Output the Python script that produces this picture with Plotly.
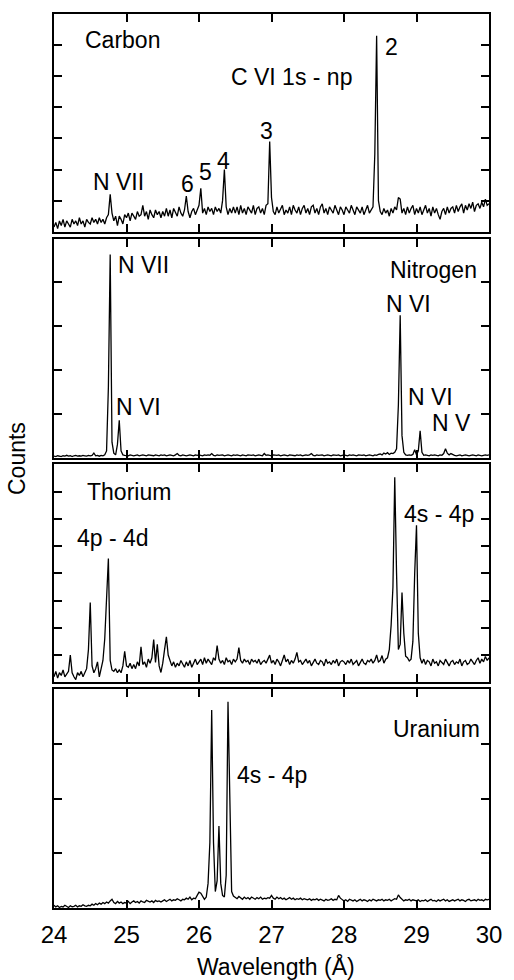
import numpy as np
import plotly.graph_objects as go

# Wavelength grid: start 24.0 A, step 0.025 A
WL_START = 24.0
WL_STEP = 0.025

carbon = [
    1.5, 3.0, 1.0, 3.5, 2.0, 4.0, 1.5, 3.5, 2.5, 1.5, 4.0, 2.5, 3.5, 2.0, 4.5, 2.5, 3.5, 1.5, 4.0, 3.0,
    2.5, 4.5, 3.0, 4.0, 2.5, 4.5, 3.0, 4.0, 2.5, 4.5, 5.5, 12.0, 6.0, 3.5, 5.0, 2.0, 5.0, 4.0, 2.5, 5.5,
    4.5, 6.0, 3.5, 6.0, 5.0, 4.0, 6.5, 5.0, 5.5, 8.5, 5.0, 6.5, 4.0, 7.0, 5.5, 4.5, 7.0, 5.5, 6.5, 4.5,
    6.5, 5.0, 7.5, 5.0, 7.0, 4.5, 7.5, 6.0, 5.0, 8.0, 6.0, 5.0, 7.0, 11.5, 6.5, 4.5, 6.5, 7.5, 5.5, 7.0,
    8.5, 14.0, 6.0, 7.5, 5.5, 8.0, 6.5, 7.5, 5.5, 8.0, 6.5, 7.5, 6.0, 10.0, 20.0, 8.0, 5.5, 7.5, 6.0, 8.0,
    6.0, 8.0, 5.5, 8.5, 6.0, 7.5, 5.5, 8.0, 7.0, 6.0, 8.5, 5.5, 7.5, 8.0, 6.0, 7.5, 5.5, 8.5, 9.0, 29.0,
    11.0, 6.5, 5.5, 8.0, 6.0, 7.5, 8.5, 5.5, 7.0, 6.0, 8.0, 5.5, 8.5, 7.0, 6.0, 8.0, 5.5, 7.5, 8.5, 6.0,
    7.5, 5.5, 8.0, 8.5, 6.0, 7.5, 5.5, 8.0, 9.0, 6.0, 7.5, 5.5, 8.0, 7.0, 6.0, 8.5, 7.0, 5.5, 8.0, 7.0,
    5.5, 8.0, 7.0, 6.0, 8.5, 7.0, 5.5, 8.0, 7.0, 6.0, 8.0, 5.5, 7.0, 8.5, 6.0, 7.0, 8.0, 25.0, 63.0, 10.0,
    6.5, 5.5, 7.5, 6.0, 7.0, 5.0, 7.5, 6.0, 8.0, 7.0, 11.0, 10.5, 6.0, 7.5, 5.5, 8.0, 6.0, 7.5, 8.5, 5.5,
    7.5, 6.0, 8.0, 5.5, 7.0, 8.5, 6.0, 7.5, 5.0, 8.0, 6.0, 7.5, 5.5, 4.0, 6.5, 7.5, 5.5, 8.0, 6.0, 7.5,
    8.0, 6.0, 8.5, 6.5, 8.0, 9.0, 6.0, 8.5, 7.0, 9.0, 7.5, 9.5, 6.5, 8.5, 9.0, 7.5, 9.5, 8.0, 10.5, 8.5,
    9.0,
]

nitrogen = [
    0.3, 0.2, 0.4, 0.3, 0.2, 0.4, 0.3, 0.5, 0.3, 0.4, 0.2, 0.4, 0.5, 0.3, 0.4, 0.3, 0.5, 0.4, 0.3, 0.5,
    0.4, 0.5, 1.0, 0.4, 0.5, 0.3, 0.5, 0.4, 0.6, 1.5, 16.0, 46.4, 3.5, 1.0, 0.6, 3.0, 8.5, 1.5, 0.6, 0.5,
    0.5, 0.4, 0.6, 0.5, 0.4, 0.5, 0.6, 0.4, 0.5, 0.6, 0.5, 0.4, 0.6, 0.5, 0.5, 0.4, 0.6, 0.5, 0.4, 0.6,
    0.5, 0.6, 0.4, 0.5, 0.6, 0.5, 0.4, 0.6, 0.9, 0.5, 0.4, 0.6, 0.5, 0.4, 0.5, 0.6, 0.5, 0.4, 0.6, 0.5,
    0.6, 0.5, 0.4, 0.6, 0.5, 0.6, 0.5, 0.9, 0.5, 0.4, 0.6, 0.5, 0.5, 0.6, 0.4, 0.5, 0.6, 0.5, 0.4, 0.6,
    0.5, 0.6, 0.5, 0.4, 0.6, 0.5, 0.4, 0.6, 0.5, 0.5, 0.6, 0.4, 0.5, 0.6, 0.5, 0.4, 0.9, 0.5, 0.6, 0.5,
    0.4, 0.6, 0.5, 0.5, 0.6, 0.4, 0.5, 0.6, 0.5, 0.4, 0.6, 0.5, 0.5, 0.4, 0.6, 0.5, 0.6, 0.4, 0.5, 0.6,
    0.5, 0.6, 0.9, 0.5, 0.4, 0.6, 0.5, 0.5, 0.6, 0.4, 0.5, 0.6, 0.5, 0.4, 0.6, 0.5, 0.5, 0.6, 0.4, 0.5,
    0.6, 0.5, 0.4, 0.6, 0.5, 0.6, 0.5, 0.4, 0.6, 0.5, 0.5, 0.6, 0.4, 0.5, 0.6, 0.5, 0.4, 0.6, 0.5, 0.7,
    0.8, 0.6, 1.0, 0.8, 1.1, 0.7, 1.0, 0.9, 1.2, 2.0, 12.0, 32.5, 5.0, 1.2, 0.6, 0.5, 0.6, 0.5, 0.7, 1.8,
    0.6, 1.5, 6.1, 1.2, 0.5, 0.6, 0.5, 0.4, 0.6, 0.5, 0.6, 0.5, 0.4, 0.6, 0.5, 0.9, 2.0, 1.0, 0.6, 0.9,
    0.6, 0.5, 0.4, 0.5, 0.6, 0.4, 0.5, 0.6, 0.5, 0.4, 0.5, 0.6, 0.5, 0.4, 0.6, 0.5, 0.4, 0.5, 0.6, 0.5,
    0.6,
]

thorium = [
    2.0, 4.0, 1.5, 3.5, 2.5, 4.5, 2.0, 3.0, 4.0, 10.0, 3.5, 2.0, 1.0, 3.5, 2.5, 4.0, 2.0, 3.5, 5.0, 12.0,
    29.3, 6.0, 3.5, 5.0, 7.5, 2.0, 5.0, 8.0, 16.0, 30.0, 45.5, 8.0, 4.5, 4.0, 5.0, 3.5, 4.5, 3.5, 6.0, 11.4,
    6.0, 5.5, 7.0, 5.0, 6.5, 5.0, 7.5, 6.0, 13.0, 6.5, 7.5, 5.5, 8.5, 7.0, 9.0, 15.7, 7.3, 13.9, 6.0, 3.6,
    7.0, 12.0, 16.7, 10.0, 7.8, 6.0, 7.5, 5.5, 7.0, 6.0, 8.0, 6.5, 5.5, 7.5, 6.0, 8.0, 5.5, 7.0, 8.5, 6.5,
    7.5, 8.5, 6.5, 9.0, 7.0, 8.5, 7.5, 6.5, 9.0, 8.0, 13.5, 8.5, 7.0, 8.0, 6.5, 9.0, 7.5, 8.0, 6.5, 8.5,
    7.5, 8.5, 12.7, 8.0, 7.0, 8.5, 7.5, 8.0, 6.5, 8.5, 7.5, 8.0, 7.0, 8.5, 6.5, 7.5, 8.0, 7.0, 8.5, 10.0,
    7.0, 8.0, 6.5, 8.5, 7.5, 6.0, 8.0, 10.0, 7.5, 8.5, 6.5, 8.0, 7.0, 8.5, 11.0, 7.5, 8.0, 6.5, 7.5, 8.5,
    7.0, 8.0, 6.0, 7.5, 8.5, 7.0, 6.5, 8.0, 7.5, 6.0, 8.5, 7.0, 7.5, 6.5, 8.0, 7.0, 8.5, 6.0, 7.5, 8.0,
    7.5, 6.5, 8.0, 7.0, 8.5, 6.5, 7.5, 8.0, 6.0, 7.5, 8.5, 7.0, 6.5, 8.0, 7.5, 8.5, 7.0, 8.0, 10.0, 7.5,
    8.0, 9.8, 7.0, 8.5, 9.0, 12.0, 21.0, 35.0, 75.3, 40.0, 12.0, 14.0, 33.0, 18.0, 9.6, 9.0, 7.8, 8.5, 15.0, 40.0,
    57.7, 18.0, 9.0, 7.0, 8.5, 6.5, 8.0, 7.5, 6.0, 8.5, 7.0, 7.5, 6.0, 8.0, 7.0, 6.5, 8.5, 7.0, 6.0, 7.5,
    8.0, 6.5, 7.5, 7.0, 8.5, 6.0, 7.5, 8.0, 6.5, 7.0, 8.5, 7.5, 6.5, 8.0, 9.0, 7.0, 8.5, 7.5, 9.5, 8.0,
    9.0,
]

uranium = [
    0.5, 0.2, 0.4, 0.1, 0.3, 0.2, 0.5, 0.3, 0.1, 0.4, 0.2, 0.3, 0.5, 0.2, 0.4, 0.3, 0.6, 0.4, 0.3, 0.5,
    0.4, 0.7, 0.5, 0.8, 0.6, 0.9, 0.7, 1.0, 0.8, 1.1, 0.9, 1.3, 1.6, 1.0, 0.8, 1.2, 0.9, 1.1, 0.8, 1.0,
    0.9, 1.2, 0.8, 1.1, 1.3, 1.0, 1.2, 0.9, 1.3, 1.1, 1.0, 1.4, 1.2, 1.1, 1.3, 1.0, 1.4, 1.2, 1.3, 1.1,
    1.3, 1.5, 1.2, 1.4, 1.6, 1.3, 1.5, 1.4, 1.7, 1.5, 1.3, 1.6, 1.5, 1.8, 1.6, 2.0, 1.5, 1.8, 1.7, 2.3,
    2.9, 2.7, 2.0, 1.6, 2.0, 4.5, 12.0, 36.2, 12.0, 3.0, 5.0, 15.0, 4.5, 2.3, 2.0, 6.0, 37.7, 16.0, 3.0, 2.2,
    2.0, 1.7, 2.1, 1.8, 1.6, 2.0, 1.7, 1.9, 1.6, 2.0, 1.8, 1.6, 1.9, 1.7, 2.0, 1.6, 1.8, 1.7, 1.9, 1.8,
    2.3, 1.8, 1.6, 2.0, 1.7, 1.9, 1.6, 1.8, 1.5, 1.7, 1.9, 1.6, 1.8, 1.5, 1.7, 1.6, 1.8, 1.5, 1.7, 1.6,
    1.5, 1.7, 1.4, 1.6, 1.5, 1.7, 1.4, 1.6, 1.5, 1.3, 1.6, 1.4, 1.5, 1.7, 1.4, 1.6, 1.5, 2.3, 1.8, 1.5,
    1.3, 1.5, 1.2, 1.6, 1.4, 1.3, 1.5, 1.2, 1.4, 1.6, 1.3, 1.5, 1.4, 1.2, 1.5, 1.3, 1.6, 1.4, 1.3, 1.5,
    1.4, 1.6, 1.3, 1.5, 1.4, 1.6, 1.3, 1.5, 1.7, 1.6, 2.4, 1.9, 1.5, 1.3, 1.5, 1.4, 1.6, 1.3, 1.5, 1.4,
    1.3, 1.5, 1.2, 1.4, 1.3, 1.5, 1.2, 1.4, 1.6, 1.3, 1.4, 1.2, 1.5, 1.3, 1.4, 1.6, 1.3, 1.5, 1.2, 1.4,
    1.5, 1.3, 1.4, 1.6, 1.3, 1.5, 1.4, 1.2, 1.5, 1.6, 1.3, 1.4, 1.5, 1.3, 1.6, 1.4, 1.5, 1.3, 1.6, 1.5,
    1.6,
]

x_ticks = [24, 25, 26, 27, 28, 29, 30]
x_ticktext = ["24", "25", "26", "27", "28", "29", "30"]

# (series, y max, tick values) for each panel, top to bottom
panels = [
    (carbon, 70, [10, 20, 30, 40, 50, 60]),
    (nitrogen, 50, [10, 20, 30, 40]),
    (thorium, 80, [10, 20, 30, 40, 50, 60, 70]),
    (uranium, 40, [10, 20, 30]),
]

# annotations per panel: (text, x, y)
labels = [
    [("Carbon", 24.95, 61.7), ("C VI 1s - np", 27.28, 49.6),
     ("2", 28.657, 59.5), ("3", 26.937, 32.5),
     ("4", 26.34, 22.7), ("5", 26.093, 19.1),
     ("6", 25.84, 15.3), ("N VII", 24.89, 15.9)],
    [("N VII", 25.232, 44.1), ("Nitrogen", 29.228, 42.8),
     ("N VI", 28.896, 35.1), ("N VI", 25.168, 11.5),
     ("N VI", 29.187, 13.8), ("N V", 29.478, 7.9)],
    [("Thorium", 25.04, 69.8), ("4p - 4d", 24.81, 53.1),
     ("4s - 4p", 29.31, 61.8)],
    [("Uranium", 29.282, 32.8), ("4s - 4p", 27.01, 24.3)],
]

W, H = 514, 980
ML, MR, MT, MB = 54, 19, 13, 72
# inner plot-area pixel extents (top, bottom) of each panel
panel_px = [(13, 231), (238, 457), (464, 682), (689, 908)]
plot_h = H - MT - MB

FONT = "Liberation Sans, Arial, Helvetica, sans-serif"

fig = go.Figure()
annotations = []
for i, (series, ymax, yt) in enumerate(panels):
    n = i + 1
    xs = WL_START + WL_STEP * np.arange(len(series))
    fig.add_trace(go.Scatter(
        x=xs, y=series, mode="lines",
        line=dict(color="black", width=1.3),
        xaxis=f"x{n}", yaxis=f"y{n}", showlegend=False, hoverinfo="skip",
    ))
    top, bot = panel_px[i]
    d0 = (H - MB - bot) / plot_h
    d1 = (H - MB - top) / plot_h
    xk = "xaxis" if n == 1 else f"xaxis{n}"
    yk = "yaxis" if n == 1 else f"yaxis{n}"
    fig.layout[xk] = dict(
        domain=[0, 1], anchor=f"y{n}", range=[24, 30],
        tickvals=x_ticks, ticktext=x_ticktext,
        ticks="inside", ticklen=8, tickwidth=1.5, tickcolor="black",
        showline=True, linewidth=2, linecolor="black", mirror="ticks",
        showgrid=False, zeroline=False,
        showticklabels=(n == 4),
        tickfont=dict(family=FONT, size=24, color="black"),
        ticklabelstandoff=4,
    )
    fig.layout[yk] = dict(
        domain=[d0, d1], anchor=f"x{n}", range=[0, ymax],
        tickvals=yt, ticks="inside", ticklen=8, tickwidth=1.5, tickcolor="black",
        showline=True, linewidth=2, linecolor="black", mirror="ticks",
        showgrid=False, zeroline=False, showticklabels=False,
    )
    for (txt, lx, ly) in labels[i]:
        annotations.append(dict(
            text=txt, x=lx, y=ly, xref=f"x{n}", yref=f"y{n}",
            xanchor="center", yanchor="middle", showarrow=False,
            font=dict(family=FONT, size=23, color="black"),
        ))

annotations.append(dict(
    text="Wavelength (Å)", x=(279 - ML) / (W - ML - MR), y=(H - MB - 966.7) / plot_h,
    xref="paper", yref="paper",
    xanchor="center", yanchor="middle", showarrow=False,
    font=dict(family=FONT, size=23, color="black"),
))
annotations.append(dict(
    text="Counts", x=(16 - ML) / (W - ML - MR), y=(H - MB - 458) / plot_h,
    xref="paper", yref="paper", xanchor="center", yanchor="middle",
    textangle=-90, showarrow=False,
    font=dict(family=FONT, size=23, color="black"),
))

fig.update_layout(
    width=W, height=H,
    margin=dict(l=ML, r=MR, t=MT, b=MB),
    paper_bgcolor="white", plot_bgcolor="white",
    annotations=annotations,
)

fig.write_html("out.html")
